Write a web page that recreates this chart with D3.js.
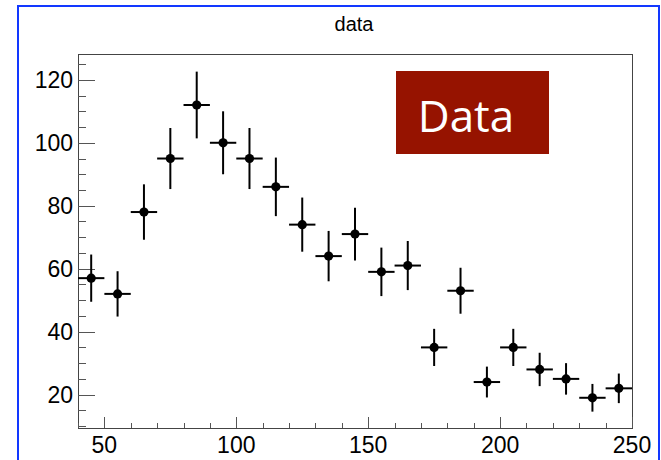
<!DOCTYPE html>
<html>
<head>
<meta charset="utf-8">
<script src="https://cdn.jsdelivr.net/npm/d3@7"></script>
<style>
  body { margin: 0; background: #fff; }
  svg { display: block; }
</style>
</head>
<body>
<div id="chart"></div>
<script>
// bin centres (width 10) and counts
const binCenters = [45, 55, 65, 75, 85, 95, 105, 115, 125, 135, 145, 155, 165, 175, 185, 195, 205, 215, 225, 235, 245];
const counts = [57, 52, 78, 95, 112, 100, 95, 86, 74, 64, 71, 59, 61, 35, 53, 24, 35, 28, 25, 19, 22];
const errors = [7.5, 7.2, 8.8, 9.7, 10.6, 10, 9.7, 9.3, 8.6, 8, 8.4, 7.7, 7.8, 5.9, 7.3, 4.9, 5.9, 5.3, 5, 4.4, 4.7];
const binHalfWidth = 5;
const xTicks = [50, 100, 150, 200, 250];
const yTicks = [20, 40, 60, 80, 100, 120];

const W = 661, H = 460;
const margin = { top: 54, right: 29, bottom: 32, left: 78 };
const width = W - margin.left - margin.right;
const height = H - margin.top - margin.bottom;

const svg = d3.select("#chart").append("svg")
  .attr("width", W)
  .attr("height", H);

// blue pad frame (bottom edge is off the picture)
svg.append("rect")
  .attr("x", 18).attr("y", 6)
  .attr("width", 641).attr("height", 470)
  .attr("fill", "none")
  .attr("stroke", "#1238ff")
  .attr("stroke-width", 2);

svg.append("text")
  .attr("x", 354).attr("y", 31)
  .attr("text-anchor", "middle")
  .style("font-family", "'Liberation Sans', Arial, sans-serif")
  .style("font-size", "20px")
  .text("data");

const g = svg.append("g")
  .attr("transform", `translate(${margin.left},${margin.top})`);

const x = d3.scaleLinear().domain([40, 250]).range([0, width]);
const y = d3.scaleLinear().domain([9.4, 128.2]).range([height, 0]);

// frame
g.append("rect")
  .attr("x", 0.5).attr("y", 0.5)
  .attr("width", width).attr("height", height)
  .attr("fill", "none")
  .attr("stroke", "#444")
  .attr("stroke-width", 1);

// y axis ticks
const yMinor = d3.range(10, 128, 5).filter(v => yTicks.indexOf(v) < 0);
g.selectAll(".ymin").data(yMinor).enter().append("line")
  .attr("x1", 0).attr("x2", 8)
  .attr("y1", d => Math.round(y(d)) + 0.5).attr("y2", d => Math.round(y(d)) + 0.5)
  .attr("stroke", "#555");
g.selectAll(".ymaj").data(yTicks).enter().append("line")
  .attr("x1", 0).attr("x2", 17)
  .attr("y1", d => Math.round(y(d)) + 0.5).attr("y2", d => Math.round(y(d)) + 0.5)
  .attr("stroke", "#555");
g.selectAll(".ylab").data(yTicks).enter().append("text")
  .attr("x", -5)
  .attr("y", d => y(d))
  .attr("dy", "0.36em")
  .attr("text-anchor", "end")
  .style("font-family", "'Liberation Sans', Arial, sans-serif")
  .style("font-size", "23px")
  .text(d => d);

// x axis ticks
const xMinor = d3.range(40, 251, 10).filter(v => xTicks.indexOf(v) < 0);
g.selectAll(".xmin").data(xMinor).enter().append("line")
  .attr("x1", d => Math.round(x(d)) + 0.5).attr("x2", d => Math.round(x(d)) + 0.5)
  .attr("y1", height).attr("y2", height - 5)
  .attr("stroke", "#555");
g.selectAll(".xmaj").data(xTicks).enter().append("line")
  .attr("x1", d => Math.round(x(d)) + 0.5).attr("x2", d => Math.round(x(d)) + 0.5)
  .attr("y1", height).attr("y2", height - 11)
  .attr("stroke", "#555");
g.selectAll(".xlab").data(xTicks).enter().append("text")
  .attr("x", d => x(d))
  .attr("y", height + 25)
  .attr("text-anchor", "middle")
  .style("font-family", "'Liberation Sans', Arial, sans-serif")
  .style("font-size", "23px")
  .text(d => d);

// data points with error bars
const pts = binCenters.map((c, i) => ({ c, n: counts[i], e: errors[i] }));
const pg = g.append("g");
pg.selectAll(".ex").data(pts).enter().append("line")
  .attr("x1", d => x(d.c - binHalfWidth)).attr("x2", d => x(d.c + binHalfWidth))
  .attr("y1", d => y(d.n)).attr("y2", d => y(d.n))
  .attr("stroke", "#000").attr("stroke-width", 2);
pg.selectAll(".ey").data(pts).enter().append("line")
  .attr("x1", d => x(d.c)).attr("x2", d => x(d.c))
  .attr("y1", d => y(d.n - d.e)).attr("y2", d => y(d.n + d.e))
  .attr("stroke", "#000").attr("stroke-width", 2);
pg.selectAll("circle").data(pts).enter().append("circle")
  .attr("cx", d => x(d.c)).attr("cy", d => y(d.n))
  .attr("r", 4.6)
  .attr("fill", "#000");

// "Data" label box
svg.append("rect")
  .attr("x", 396).attr("y", 71)
  .attr("width", 153).attr("height", 83)
  .attr("fill", "#961300");
svg.append("text")
  .attr("x", 466).attr("y", 132)
  .attr("text-anchor", "middle")
  .attr("fill", "#fff")
  .style("font-family", "'Open Sans', 'Noto Sans', sans-serif")
  .style("font-size", "44px")
  .text("Data");
</script>
</body>
</html>
